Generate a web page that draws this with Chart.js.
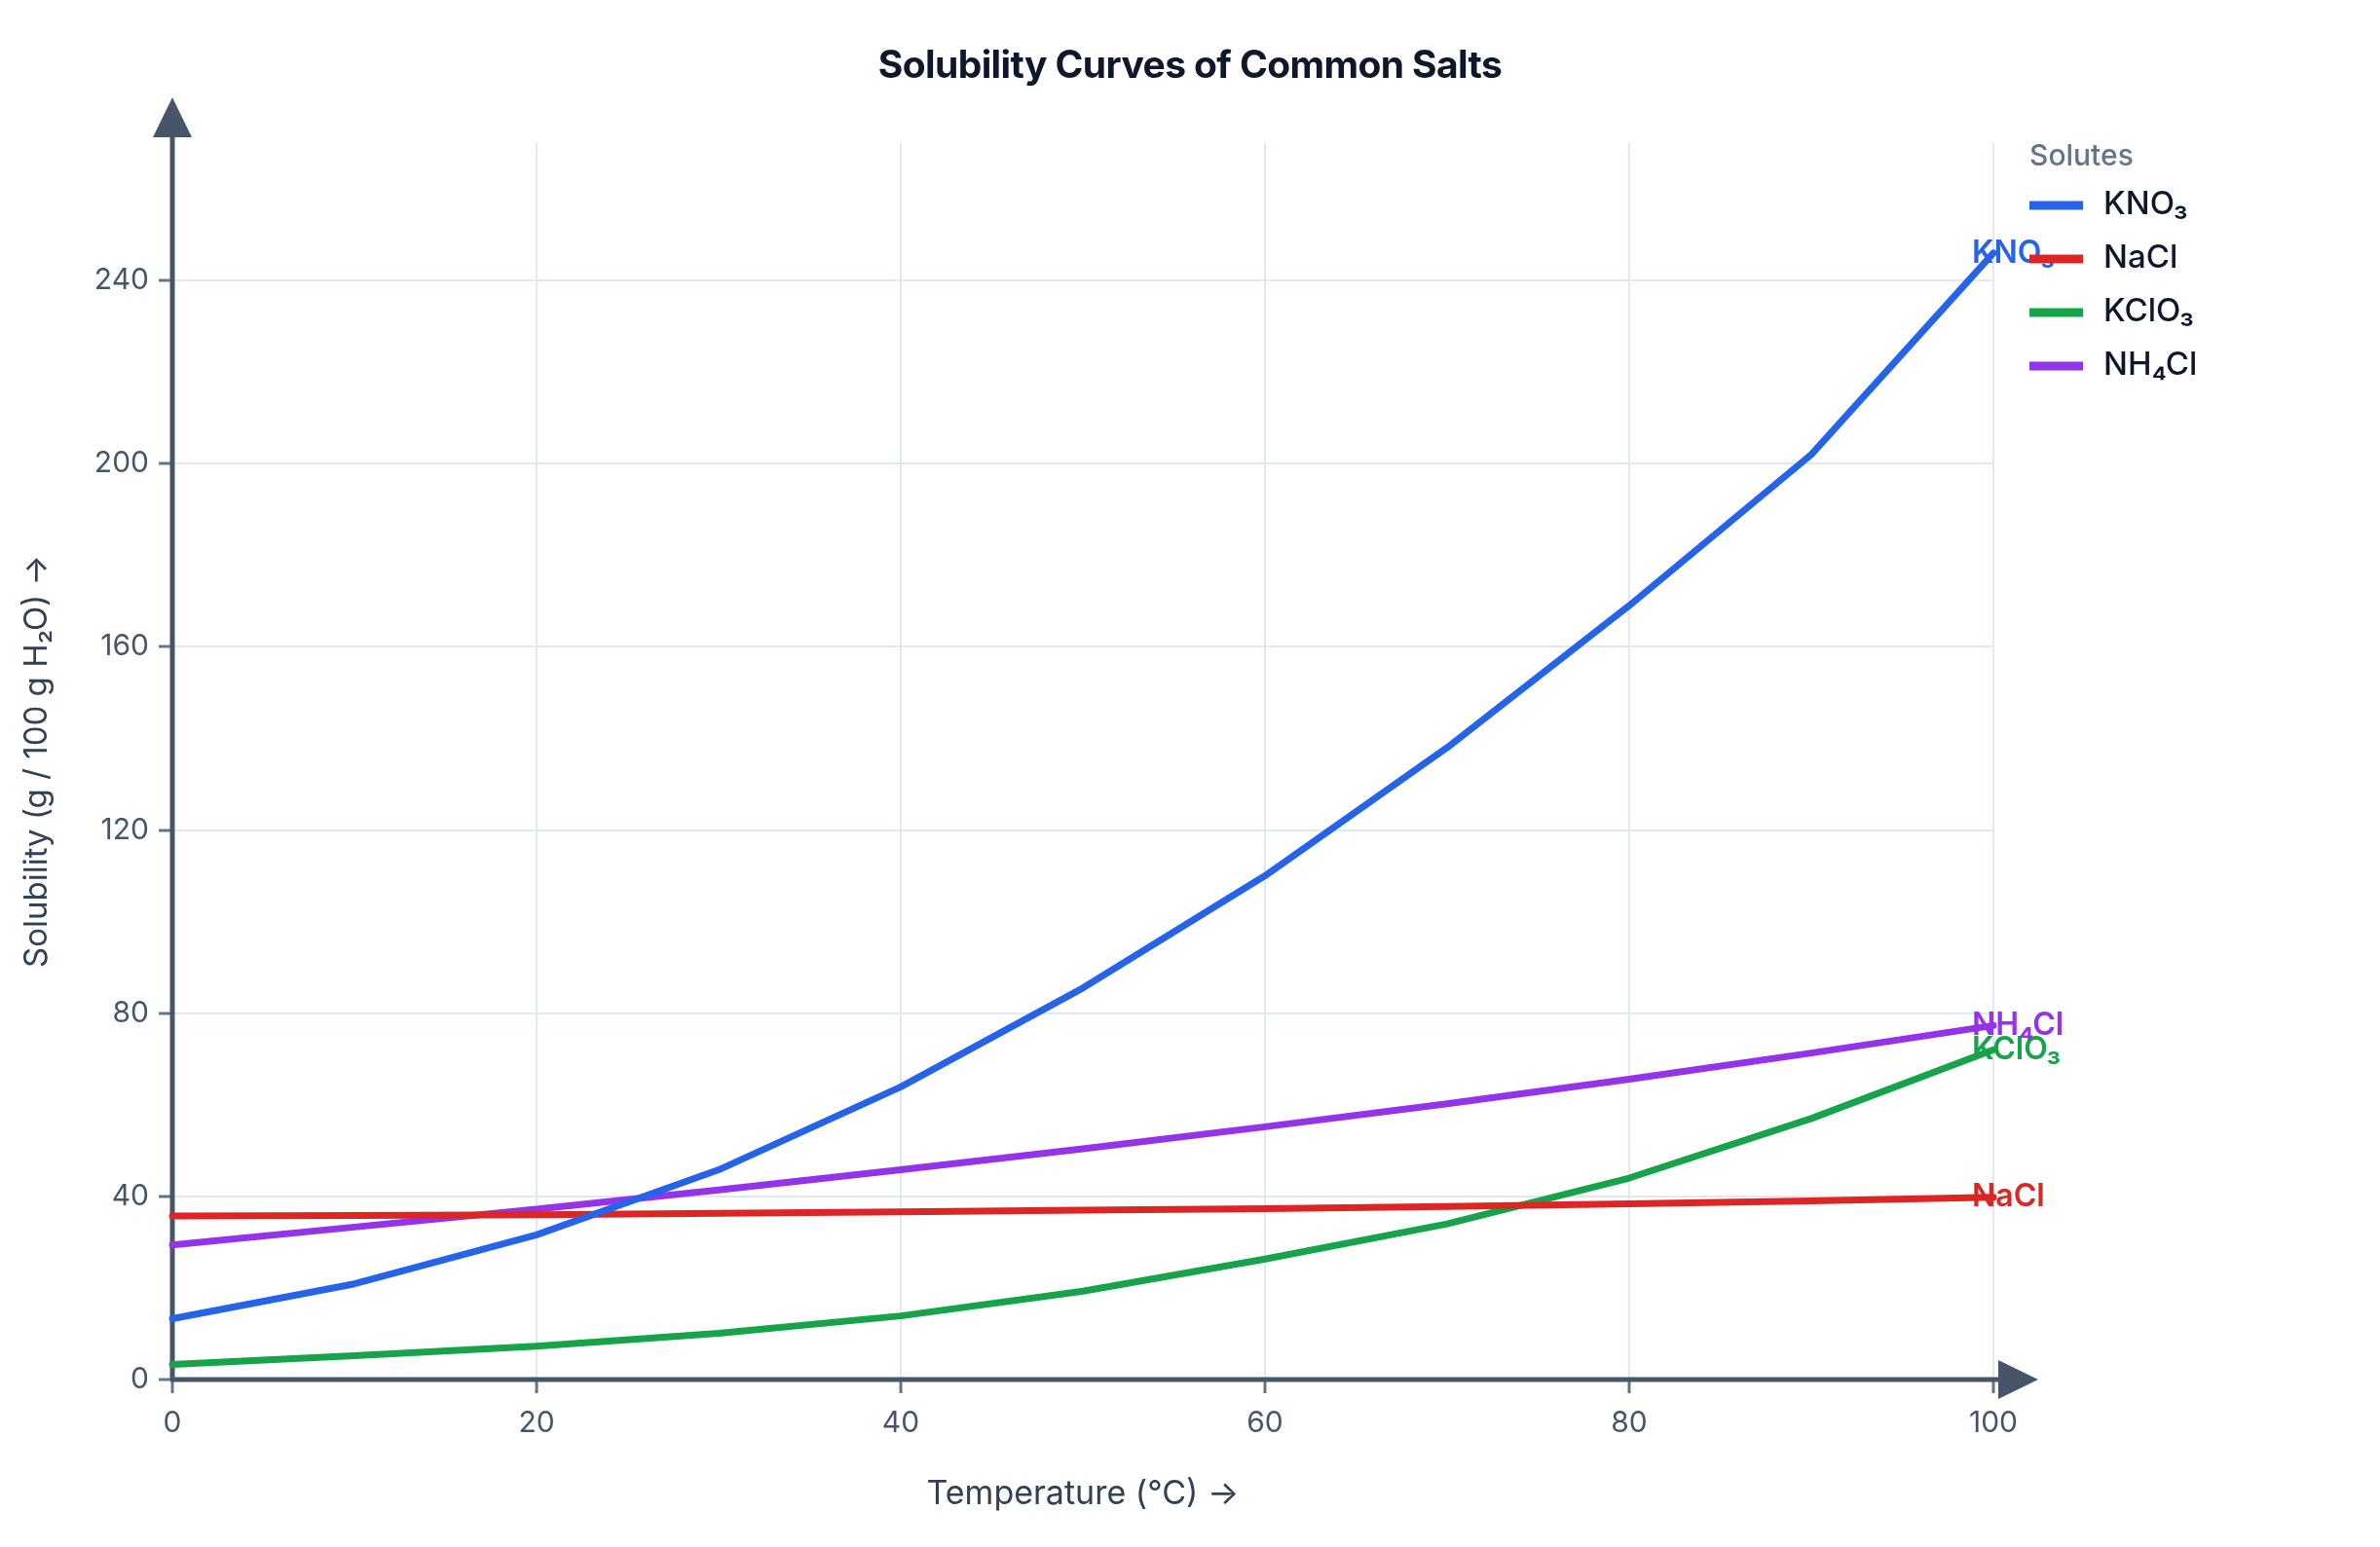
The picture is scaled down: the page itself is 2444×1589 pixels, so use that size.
<!DOCTYPE html>
<html>
<head>
<meta charset="utf-8">
<title>Solubility Curves of Common Salts</title>
<script src="https://cdn.jsdelivr.net/npm/chart.js@4.4.1/dist/chart.umd.min.js"></script>
<style>
  html, body { margin: 0; padding: 0; background: #fff; }
  canvas { display: block; }
</style>
</head>
<body>
<canvas id="myChart" width="2444" height="1589"></canvas>
<script>
// temperatura (°C) y solubilidad (g / 100 g de agua)
const temps = [0, 10, 20, 30, 40, 50, 60, 70, 80, 90, 100];
const kno3 = [13.3, 20.9, 31.6, 45.8, 63.9, 85.5, 110, 138, 169, 202, 246];
const nacl = [35.7, 35.8, 36.0, 36.3, 36.6, 37.0, 37.3, 37.8, 38.4, 39.0, 39.8];
const kclo3 = [3.3, 5.2, 7.3, 10.1, 13.9, 19.3, 26.3, 34.0, 44.0, 57.0, 72.0];
const nh4cl = [29.4, 33.3, 37.2, 41.4, 45.8, 50.4, 55.2, 60.2, 65.6, 71.3, 77.3];

const nombres = ["KNO₃", "NaCl", "KClO₃", "NH₄Cl"];
const colores = ["#2563eb", "#dc2626", "#16a34a", "#9333ea"];
const series = [kno3, nacl, kclo3, nh4cl];

const tituloGrafico = "Solubility Curves of Common Salts";
const tituloLeyenda = "Solutes";
const tituloX = "Temperature (°C) →";
const tituloY = "Solubility (g / 100 g H₂O) →";

const FONT = "Inter, 'Noto Sans', sans-serif";
const ctx = document.getElementById("myChart");

const datasets = series.map((valores, i) => ({
  label: nombres[i],
  data: temps.map((t, j) => ({ x: t, y: valores[j] })),
  borderColor: colores[i],
  backgroundColor: colores[i],
  borderWidth: 7,
  borderCapStyle: "round",
  borderJoinStyle: "round",
  pointRadius: 0,
  tension: 0,
  fill: false,
  clip: false,
}));

// ejes con flechas, etiquetas al final de cada curva, leyenda y título
const extras = {
  id: "extras",
  beforeDatasetsDraw(chart) {
    const c = chart.ctx;
    const { left, right, top, bottom } = chart.chartArea;
    c.save();
    c.strokeStyle = "#475569";
    c.fillStyle = "#475569";
    c.lineWidth = 5;
    c.beginPath();
    c.moveTo(left, bottom);
    c.lineTo(left, top - 6);
    c.moveTo(left - 2, bottom);
    c.lineTo(right + 6, bottom);
    c.stroke();
    c.beginPath();
    c.moveTo(left, top - 47);
    c.lineTo(left - 20, top - 6);
    c.lineTo(left + 20, top - 6);
    c.closePath();
    c.fill();
    c.beginPath();
    c.moveTo(right + 46, bottom);
    c.lineTo(right + 5, bottom - 20);
    c.lineTo(right + 5, bottom + 20);
    c.closePath();
    c.fill();
    c.restore();
  },
  afterDatasetsDraw(chart) {
    const c = chart.ctx;
    c.save();
    // etiquetas al final
    c.font = "600 32px " + FONT;
    c.textAlign = "left";
    c.textBaseline = "middle";
    chart.data.datasets.forEach((ds, i) => {
      const meta = chart.getDatasetMeta(i);
      const p = meta.data[meta.data.length - 1];
      c.fillStyle = ds.borderColor;
      c.fillText(ds.label, p.x - 22, p.y);
    });

    // título
    c.font = "700 39px " + FONT;
    c.textAlign = "center";
    c.textBaseline = "alphabetic";
    c.fillStyle = "#0f172a";
    c.letterSpacing = "-0.6px";
    c.fillText(tituloGrafico, chart.width / 2, 80);
    c.letterSpacing = "0px";

    // leyenda
    const lx = 2084;
    c.textAlign = "left";
    c.font = "500 30px " + FONT;
    c.fillStyle = "#64748b";
    c.fillText(tituloLeyenda, lx, 170);
    c.font = "500 33px " + FONT;
    chart.data.datasets.forEach((ds, i) => {
      const y = 211 + i * 55;
      c.fillStyle = ds.borderColor;
      c.fillRect(lx, y - 4.5, 55, 9);
      c.fillStyle = "#0f172a";
      c.fillText(ds.label, lx + 76, y + 9);
    });
    c.restore();
  },
};

const chart = new Chart(ctx, {
  type: "line",
  data: { datasets: datasets },
  plugins: [extras],
  options: {
    responsive: false,
    devicePixelRatio: 1,
    animation: false,
    layout: { padding: { top: 147, right: 397, left: 0, bottom: 0 } },
    plugins: {
      legend: { display: false },
      title: { display: false },
      tooltip: { enabled: false },
    },
    scales: {
      x: {
        type: "linear",
        min: 0,
        max: 100,
        afterFit: (scale) => { scale.height = 172; },
        border: { display: false },
        grid: { color: "#e2e8f0", lineWidth: 2, tickColor: "#64748b", tickWidth: 3, tickLength: 14 },
        ticks: { stepSize: 20, color: "#475569", padding: 13, font: { family: FONT, size: 30 } },
        title: {
          display: true,
          text: tituloX,
          color: "#334155",
          font: { family: FONT, size: 34, lineHeight: 1 },
          padding: { top: 0, bottom: 37 },
        },
      },
      y: {
        min: 0,
        max: 270,
        afterFit: (scale) => { scale.width = 177; },
        border: { display: false },
        grid: { color: "#e2e8f0", lineWidth: 2, tickColor: "#64748b", tickWidth: 3, tickLength: 14 },
        ticks: { stepSize: 40, includeBounds: false, color: "#475569", padding: 10, font: { family: FONT, size: 30 } },
        title: {
          display: true,
          text: tituloY,
          color: "#334155",
          font: { family: FONT, size: 33, lineHeight: 1 },
          padding: { top: 22, bottom: 0 },
        },
      },
    },
  },
});
</script>
</body>
</html>
